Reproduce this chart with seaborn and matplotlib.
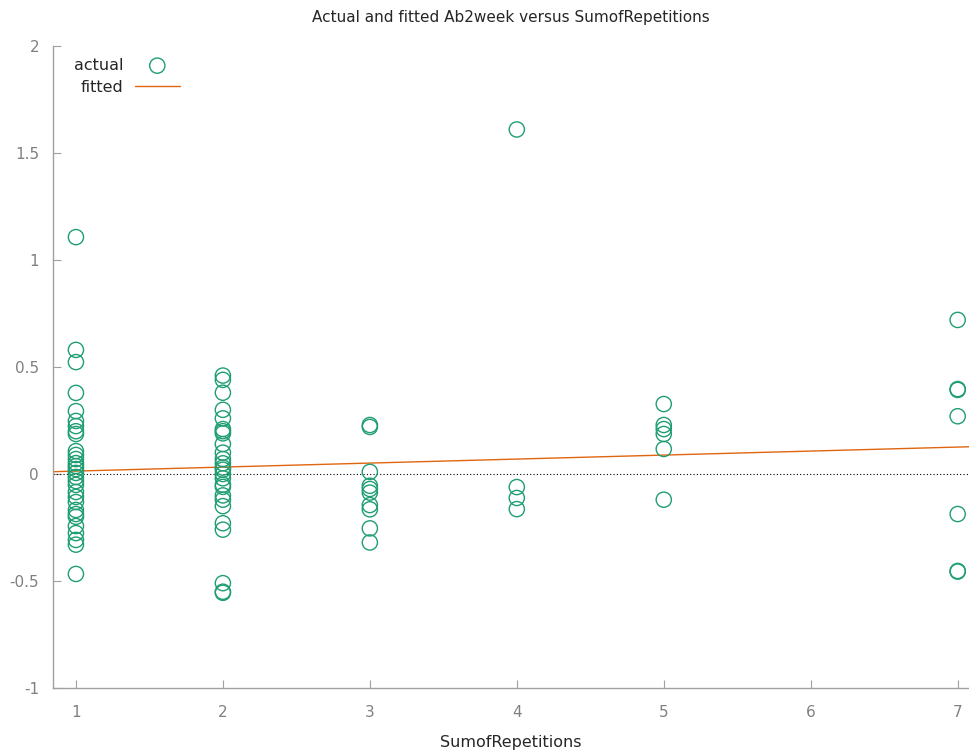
import numpy as np
import pandas as pd
import matplotlib
matplotlib.use("Agg")
import matplotlib.pyplot as plt
import seaborn as sns

# ---- data ----
x1 = [1.107, 0.58, 0.523, 0.379, 0.294, 0.248, 0.224, 0.2, 0.187,
      0.107, 0.089, 0.07, 0.051, 0.037, 0.023, 0.005, -0.014, -0.033, -0.051,
      -0.084, -0.107, -0.131, -0.168, -0.187, -0.2, -0.243, -0.276, -0.308, -0.33, -0.467]
x2 = [0.46, 0.44, 0.38, 0.30, 0.26, 0.21, 0.20, 0.19, 0.14, 0.10, 0.07, 0.05,
      0.03, 0.02, 0.0, -0.02, -0.05, -0.06, -0.10, -0.12, -0.15, -0.23, -0.26,
      -0.51, -0.55, -0.555]
x3 = [0.229, 0.22, 0.01, -0.055, -0.07, -0.087, -0.145, -0.165, -0.254, -0.32]
x4 = [1.61, -0.061, -0.112, -0.164]
x5 = [0.327, 0.229, 0.21, 0.187, 0.117, -0.12]
x7 = [0.72, 0.397, 0.393, 0.27, -0.187, -0.453, -0.456]

groups = {1: x1, 2: x2, 3: x3, 4: x4, 5: x5, 7: x7}
rep_vals = []
ab_vals = []
for k, vals in groups.items():
    rep_vals += [k] * len(vals)
    ab_vals += vals
df = pd.DataFrame({"SumofRepetitions": rep_vals, "Ab2week": ab_vals})

fit_intercept = -0.005
fit_slope = 0.0187

x_ticks = [1, 2, 3, 4, 5, 6, 7]
y_ticks = [-1, -0.5, 0, 0.5, 1, 1.5, 2]
y_tick_labels = ["-1", "-0.5", "0", "0.5", "1", "1.5", "2"]

green = "#1f9e72"
orange = "#e0650f"
grey = "#808080"

sns.set_style("white")
plt.rcParams["font.family"] = ["DejaVu Sans"]

fig = plt.figure(figsize=(9.69, 7.53), dpi=100)
ax = fig.add_axes([0.0547, 0.0863, 0.945, 0.8526])

xlim = (0.844, 7.075)
ax.set_xlim(*xlim)
ax.set_ylim(-1, 2)

ax.axhline(0, color="black", linestyle=(0, (1, 2)), linewidth=0.8, zorder=1)

sns.scatterplot(data=df, x="SumofRepetitions", y="Ab2week", ax=ax,
                marker="o", s=120, facecolors="none", edgecolor=green,
                linewidth=1.0, label="actual", zorder=3)

fit_df = pd.DataFrame({"x": list(xlim)})
fit_df["y"] = fit_intercept + fit_slope * fit_df["x"]
sns.lineplot(data=fit_df, x="x", y="y", ax=ax, color=orange, linewidth=1.0,
             label="fitted", zorder=2)

ax.set_xticks(x_ticks)
ax.set_xticklabels([str(t) for t in x_ticks])
ax.set_yticks(y_ticks)
ax.set_yticklabels(y_tick_labels)
ax.tick_params(axis="both", direction="in", length=6, width=0.8, color="#a0a0a0",
               labelcolor=grey, labelsize=11, left=True, bottom=True)
ax.tick_params(axis="x", pad=12)
ax.tick_params(axis="y", pad=10)

for s in ["top", "right"]:
    ax.spines[s].set_visible(False)
for s in ["left", "bottom"]:
    ax.spines[s].set_color("#a0a0a0")
    ax.spines[s].set_linewidth(1.0)

ax.set_xlabel("SumofRepetitions", fontsize=11.5, labelpad=11)
ax.set_ylabel("")
ax.set_title("Actual and fitted Ab2week versus SumofRepetitions", fontsize=11, pad=17)

leg = ax.legend(loc="upper left", bbox_to_anchor=(0.011, 0.999), markerfirst=False,
                frameon=False, fontsize=11.5, handlelength=2.8, handletextpad=0.7,
                borderaxespad=0.3, labelspacing=0.45)
for t in leg.get_texts():
    t.set_ha("right")
leg._legend_box.align = "right"

fig.savefig("out.png", dpi=100)
